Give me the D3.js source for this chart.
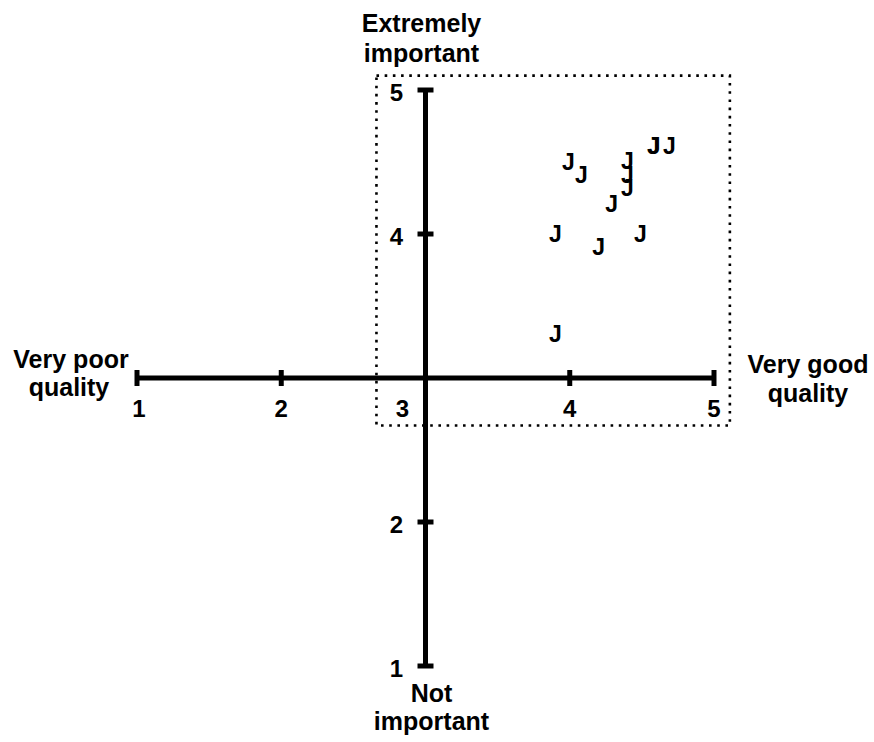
<!DOCTYPE html>
<html>
<head>
<meta charset="utf-8">
<script src="https://cdn.jsdelivr.net/npm/d3@7"></script>
<style>
  html, body { margin: 0; padding: 0; background: #fff; }
  svg { display: block; }
  text { font-family: "Liberation Sans", Arial, Helvetica, sans-serif; font-weight: bold; fill: #000; }
</style>
</head>
<body>
<svg id="chart" width="874" height="742"></svg>
<script>
// ---- data ----
const quality    = [3.99, 4.08, 4.40, 4.40, 4.40, 4.29, 3.90, 4.20, 4.49, 4.58, 4.585, 4.69, 3.90];
const importance = [4.50, 4.41, 4.51, 4.41, 4.32, 4.21, 4.00, 3.91, 4.00, 4.61, 4.61, 4.61, 3.31];
const marker = "J";
const xTicks = [1, 2, 3, 4, 5];
const yTicks = [1, 2, 4, 5];
const xTickMarks = [1, 2, 4, 5];
const yTickMarks = [1, 2, 4, 5];
const xEndLabels = ["Very poor", "quality", "Very good", "quality"];
const yEndLabels = ["Extremely", "important", "Not", "important"];
const focusBoxX = [2.66, 5.11];
const focusBoxY = [2.67, 5.10];

// ---- drawing ----
const svg = d3.select("#chart");
const x = d3.scaleLinear().domain([1, 5]).range([137, 714]);
const y = d3.scaleLinear().domain([1, 5]).range([666, 90]);
const cx = x(3), cy = y(3);

// dotted focus box
svg.append("rect")
  .attr("x", x(focusBoxX[0])).attr("y", y(focusBoxY[1]))
  .attr("width", x(focusBoxX[1]) - x(focusBoxX[0]))
  .attr("height", y(focusBoxY[0]) - y(focusBoxY[1]))
  .attr("fill", "none").attr("stroke", "#000")
  .attr("stroke-width", 2.6).attr("stroke-dasharray", "2.6 5.6");

const axisW = 5;
// horizontal axis
svg.append("line").attr("x1", x(1)).attr("x2", x(5)).attr("y1", cy).attr("y2", cy)
  .attr("stroke", "#000").attr("stroke-width", axisW);
// vertical axis
svg.append("line").attr("x1", cx).attr("x2", cx).attr("y1", y(5)).attr("y2", y(1))
  .attr("stroke", "#000").attr("stroke-width", axisW);

// tick marks
svg.selectAll("line.xt").data(xTickMarks).join("line").attr("class", "xt")
  .attr("x1", d => x(d)).attr("x2", d => x(d)).attr("y1", cy - 8).attr("y2", cy + 8)
  .attr("stroke", "#000").attr("stroke-width", axisW);
svg.selectAll("line.yt").data(yTickMarks).join("line").attr("class", "yt")
  .attr("y1", d => y(d)).attr("y2", d => y(d)).attr("x1", cx - 8).attr("x2", cx + 8)
  .attr("stroke", "#000").attr("stroke-width", axisW);

// tick labels
svg.selectAll("text.xl").data(xTicks).join("text").attr("class", "xl")
  .attr("x", d => d === 3 ? x(d) - 23 : x(d) + (d === 1 ? 2 : 0))
  .attr("y", cy + 39)
  .attr("text-anchor", "middle").attr("font-size", 24)
  .text(d => d);
svg.selectAll("text.yl").data(yTicks).join("text").attr("class", "yl")
  .attr("x", cx - 29)
  .attr("y", d => y(d) + 2)
  .attr("dy", "0.36em")
  .attr("text-anchor", "middle").attr("font-size", 24)
  .text(d => d);

// end labels
const lab = (txt, px, py) => svg.append("text").attr("x", px).attr("y", py)
  .attr("text-anchor", "middle").attr("font-size", 25).text(txt);
lab(yEndLabels[0], cx - 4, y(5) - 58);
lab(yEndLabels[1], cx - 4, y(5) - 28);
lab(yEndLabels[2], cx + 6, y(1) + 36);
lab(yEndLabels[3], cx + 6, y(1) + 64);
lab(xEndLabels[0], x(1) - 66, cy - 10);
lab(xEndLabels[1], x(1) - 68, cy + 18);
lab(xEndLabels[2], x(5) + 94, cy - 5);
lab(xEndLabels[3], x(5) + 94, cy + 24);

// data markers
const pts = quality.map((q, i) => ({ q, imp: importance[i] }));
svg.selectAll("text.pt").data(pts).join("text").attr("class", "pt")
  .attr("x", d => x(d.q)).attr("y", d => y(d.imp))
  .attr("dy", "0.36em").attr("text-anchor", "middle")
  .attr("font-size", 23)
  .text(marker);
</script>
</body>
</html>
